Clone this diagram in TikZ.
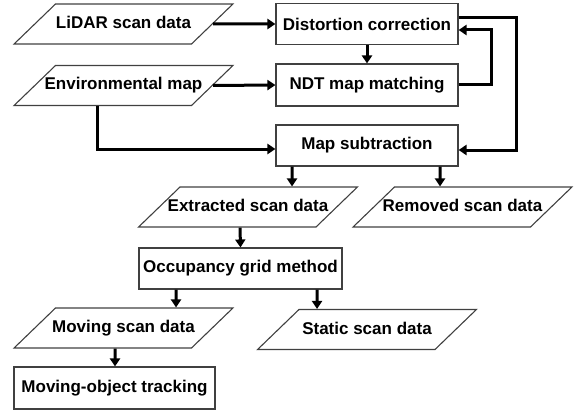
\documentclass[tikz,border=0pt]{standalone}
\usepackage{fontspec}
\setmainfont{Liberation Sans}
\usetikzlibrary{shapes.geometric,arrows.meta}

\begin{document}
\begin{tikzpicture}[
  x=1pt, y=-1pt,
  every node/.style={font=\fontsize{17}{20}\selectfont\bfseries},
  proc/.style={draw=black!75, line width=1.1pt, rectangle, minimum height=41pt, inner sep=0pt},
  data/.style={draw=black!75, line width=1.1pt, trapezium, trapezium left angle=44,
    trapezium right angle=136, text height=12.5pt, text depth=3.5pt,
    inner xsep=0pt, inner ysep=12pt,
    execute at begin node={\hbox to 136pt\bgroup\hss},
    execute at end node={\hss\egroup}},
  flow/.style={line width=3pt, -{Triangle[length=8pt,width=10pt]}}
]
\useasboundingbox (0,0) rectangle (579,412);

% input data and the localisation stage:
\node[data] (lidar) at (123.5,24) {LiDAR scan data};
\node[data] (env) at (123.5,85.5) {Environmental map};
\node[proc, minimum width=182pt] (dist) at (367,24) {Distortion correction};
\node[proc, minimum width=182pt, minimum height=42pt] (ndt) at (367,85) {NDT map matching};
\node[proc, minimum width=182pt] (sub) at (367,145.5) {Map subtraction};

% results of the subtraction:
\node[data] (ext) at (248,207) {Extracted scan data};
\node[data] (rem) at (462.5,207) {Removed scan data};
\node[proc, minimum width=203pt] (occ) at (240.5,268.5) {Occupancy grid method};
\node[data] (mov) at (123.5,328) {Moving scan data};
\node[data] (stat) at (367,329.5) {Static scan data};
\node[proc, minimum width=201pt, minimum height=42pt] (track) at (114.5,388) {Moving-object tracking};

% connectors:
\draw[flow] (lidar.east) -- (dist.west);
\draw[flow] (env.east) -- (ndt.west);
\draw[flow] (dist.south) -- (ndt.north);
\draw[flow] (ndt.east) -- ++(33,0) |- ([yshift=-6pt]dist.east);
\draw[flow] ([yshift=6pt]dist.east) -- ++(58,0) |- ([yshift=-4.5pt]sub.east);
\draw[flow] ([xshift=-26.5pt]env.south) |- ([yshift=-3.5pt]sub.west);
\draw[flow] ([xshift=-75pt]sub.south) -- ([xshift=44pt]ext.north);
\draw[flow] ([xshift=73pt]sub.south) -- ([xshift=-22.5pt]rem.north);
\draw[flow] ([xshift=-8pt]ext.south) -- (occ.north);
\draw[flow] ([xshift=-64.5pt]occ.south) -- ([xshift=52.5pt]mov.north);
\draw[flow] ([xshift=76.5pt]occ.south) -- ([xshift=-50pt]stat.north);
\draw[flow] ([xshift=-8.5pt]mov.south) -- ([xshift=0.5pt]track.north);
\end{tikzpicture}
\end{document}
